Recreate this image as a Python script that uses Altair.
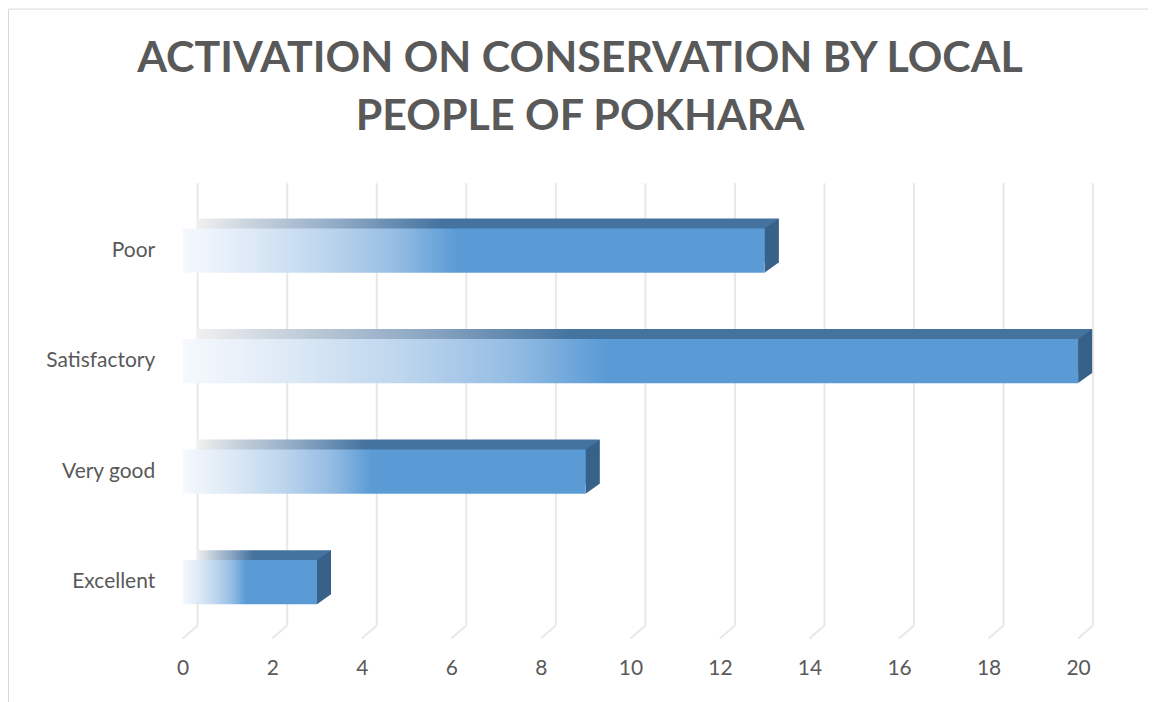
import altair as alt
import pandas as pd

# ---- data ----
categories = ["Poor", "Satisfactory", "Very good", "Excellent"]
values = [13, 20, 9, 3]
tick_values = [0, 2, 4, 6, 8, 10, 12, 14, 16, 18, 20]
title_lines = ["ACTIVATION ON CONSERVATION BY LOCAL", "PEOPLE OF POKHARA"]

df = pd.DataFrame({"category": categories, "value": values})
ticks_df = pd.DataFrame({"t": tick_values})
one = pd.DataFrame({"a": [0]})

FONT = "Lato"
TXT = "#595959"
W, H = 897, 443
L, T = 175, 187

xscale = alt.Scale(domain=[0, 20], nice=False, zero=True)
yscale = alt.Scale(domain=categories, paddingInner=0.6, paddingOuter=0.3)

front_grad = alt.LinearGradient(
    gradient="linear", x1=0, x2=1, y1=0, y2=0,
    stops=[
        alt.GradientStop(offset=0.0, color="#F6F9FD"),
        alt.GradientStop(offset=0.12, color="#DDE9F6"),
        alt.GradientStop(offset=0.25, color="#BCD5ED"),
        alt.GradientStop(offset=0.37, color="#93BCE3"),
        alt.GradientStop(offset=0.47, color="#5B9BD5"),
        alt.GradientStop(offset=1.0, color="#5B9BD5"),
    ],
)
top_grad = alt.LinearGradient(
    gradient="linear", x1=0, x2=1, y1=0, y2=0,
    stops=[
        alt.GradientStop(offset=0.0, color="#F0F0F0"),
        alt.GradientStop(offset=0.1, color="#C6D1DC"),
        alt.GradientStop(offset=0.25, color="#8DA8C4"),
        alt.GradientStop(offset=0.42, color="#44739F"),
        alt.GradientStop(offset=1.0, color="#44739F"),
    ],
)

x_axis = alt.Axis(title=None, grid=False, domain=False, ticks=False,
                  labelFont=FONT, labelFontSize=21, labelColor=TXT,
                  labelPadding=20, values=tick_values, format="d",
                  labelFlush=False)
y_axis = alt.Axis(title=None, grid=False, domain=False, ticks=False,
                  labelFont=FONT, labelFontSize=21, labelColor=TXT,
                  labelPadding=28)

border = alt.Chart(one).mark_rect(fill="transparent", stroke="#D9D9D9", strokeWidth=1).encode(
    x=alt.value(-L + 0.5), x2=alt.value(W + 73.5),
    y=alt.value(-T + 0.5), y2=alt.value(H + 67.5),
)

grid_back = alt.Chart(ticks_df).mark_rule(color="#E8E8E8", strokeWidth=2, xOffset=15).encode(
    x=alt.X("t:Q", scale=xscale, axis=x_axis),
    y=alt.value(-12), y2=alt.value(H - 12),
)
grid_floor = alt.Chart(ticks_df).mark_rule(color="#E8E8E8", strokeWidth=2, xOffset=15).encode(
    x=alt.X("t:Q", scale=xscale, axis=x_axis),
    x2=alt.X2("t"),
    y=alt.value(H - 12), y2=alt.value(H + 1),
)

top_face = alt.Chart(df).mark_bar(color=top_grad, xOffset=14, x2Offset=14,
                                  yOffset=-10, y2Offset=-10).encode(
    x=alt.X("value:Q", scale=xscale, axis=x_axis),
    y=alt.Y("category:N", scale=yscale, axis=y_axis, sort=categories),
)

side_face = alt.Chart(df).mark_point(
    shape="M0,-22L14,-32L14,12L0,22Z", size=4, filled=True, opacity=1,
    color="#386189", strokeWidth=0,
).encode(
    x=alt.X("value:Q", scale=xscale, axis=x_axis),
    y=alt.Y("category:N", scale=yscale, axis=y_axis, sort=categories),
)

front_face = alt.Chart(df).mark_bar(color=front_grad).encode(
    x=alt.X("value:Q", scale=xscale, axis=x_axis),
    y=alt.Y("category:N", scale=yscale, axis=y_axis, sort=categories),
)

title1 = alt.Chart(one).mark_text(
    text=title_lines[0], font=FONT, fontSize=43, fontWeight="bold", color=TXT,
    align="center", baseline="alphabetic",
).encode(x=alt.value(581 - 8 - L), y=alt.value(72 - 8 - T))
title2 = alt.Chart(one).mark_text(
    text=title_lines[1], font=FONT, fontSize=43, fontWeight="bold", color=TXT,
    align="center", baseline="alphabetic",
).encode(x=alt.value(581 - 8 - L), y=alt.value(130 - 8 - T))

chart = alt.layer(
    grid_back, grid_floor, top_face, side_face, front_face, title1, title2, border
).properties(
    width=W, height=H,
    autosize=alt.AutoSizeParams(type="none"),
    padding={"left": L, "top": T, "right": 70, "bottom": 66},
).configure(background="white", view=alt.ViewConfig(stroke=None))

chart.save("out.html", embed_options={"renderer": "svg", "actions": False})
